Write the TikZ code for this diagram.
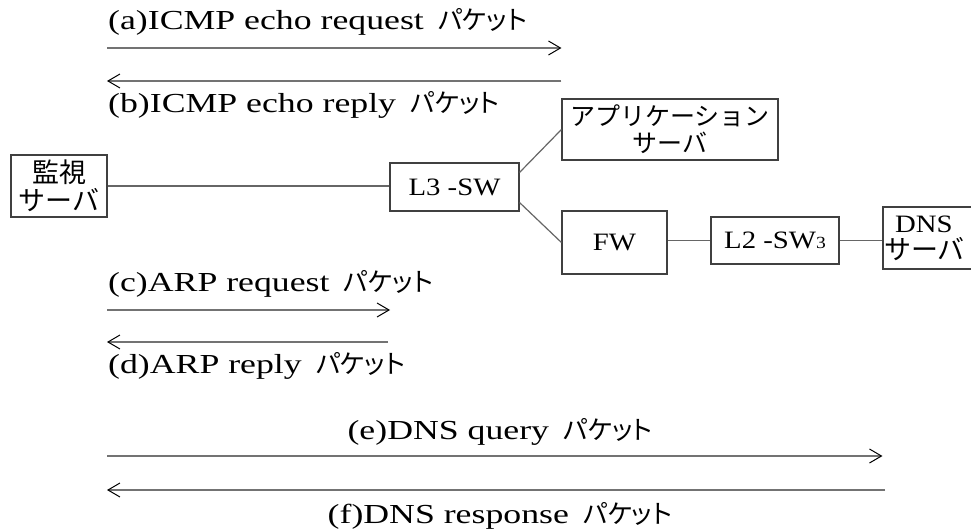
\documentclass[tikz,border=0pt]{standalone}
\usepackage{fontspec}
\setmainfont{Liberation Serif}[FakeStretch=1.15]
\newfontfamily\lblfont{Liberation Serif}[FakeStretch=1.3]
\newfontfamily\jp{Noto Sans CJK JP}
\newfontfamily\jpprop{Noto Sans CJK JP}[RawFeature=+palt]
\usetikzlibrary{arrows.meta}
\tikzset{
  box/.style={draw=black!75, line width=1.1pt, inner sep=0pt, align=center},
  link/.style={draw=black!60, line width=1.2pt},
  msg/.style={draw=black!55, line width=1.4pt,
    -{Straight Barb[length=12pt,width=14pt,line width=1pt,color=black]}},
  lbl/.style={inner sep=0pt, font=\lblfont\fontsize{27.5}{30}\selectfont},
  jpbox/.style={font=\jp\fontsize{27}{28}\selectfont},
  enbox/.style={font=\fontsize{25}{27}\selectfont},
}
\newcommand\pkt{\hspace{14pt}{\jpprop\fontsize{26}{27}\selectfont パケット}}
\begin{document}
\begin{tikzpicture}[x=1pt,y=-1pt]
\useasboundingbox[fill=white] (0,0) rectangle (971,529);

% equipment
\node[box, jpbox, minimum width=96pt, minimum height=62pt] (kanshi) at (59,186) {監視\\サーバ};
\node[box, enbox, minimum width=129pt, minimum height=48pt] (l3) at (454.5,187) {L3 -SW};
\node[box, font=\jp\fontsize{25}{27}\selectfont, minimum width=216pt, minimum height=61pt] (app) at (670,129.5) {アプリケーション\\サーバ};
\node[box, enbox, minimum width=105pt, minimum height=63pt] (fw) at (614.5,242.5) {FW};
\node[box, enbox, minimum width=128pt, minimum height=47pt] (l2) at (775,240.5) {L2 -SW{\fontsize{17}{18}\selectfont 3}};
\node[box, minimum width=102pt, minimum height=62pt, text width=102pt, align=left,
      font=\fontsize{25}{27}\selectfont] (dns) at (934,238)
  {\hspace{12pt}DNS\\\hspace{1pt}{\jp\fontsize{27}{27}\selectfont サーバ}};

% wiring
\draw[link] (kanshi.east) -- (kanshi.east -| l3.west);
\draw[link] ([yshift=-10pt]l3.north east) -- (app.west);
\draw[link] ([yshift=9pt]l3.south east) -- (fw.west);
\draw[link] (l2.west -| fw.east) -- (l2.west);
\draw[link] (l2.east) -- (l2.east -| dns.west);

% packet arrows
\coordinate (s1) at (107,48);  \coordinate (e1) at (app.west |- s1);
\coordinate (s2) at (107,81);  \coordinate (e2) at (app.west |- s2);
\coordinate (s3) at (107,310); \coordinate (e3) at (390,310);
\coordinate (s4) at (107,342); \coordinate (e4) at (388,342);
\coordinate (s5) at (107,456); \coordinate (e5) at (dns.west |- s5);
\coordinate (s6) at (107,490); \coordinate (e6) at (885,490);

\draw[msg] (s1) -- (e1);
\draw[msg] (e2) -- (s2);
\draw[msg] (s3) -- (e3);
\draw[msg] (e4) -- (s4);
\draw[msg] (s5) -- (e5);
\draw[msg] (e6) -- (s6);

\node[lbl, anchor=west] (ta) at (108,22)  {(a)ICMP echo request\pkt};
\node[lbl, anchor=west] (tb) at (108,105) {(b)ICMP echo reply\pkt};
\node[lbl, anchor=west] (tc) at (108,284) {(c)ARP request\pkt};
\node[lbl, anchor=west] (td) at (108,366) {(d)ARP reply\pkt};
\node[lbl] (te) at (500,432) {(e)DNS query\pkt};
\node[lbl] (tf) at (500,516) {(f)DNS response\pkt};
\end{tikzpicture}
\end{document}
